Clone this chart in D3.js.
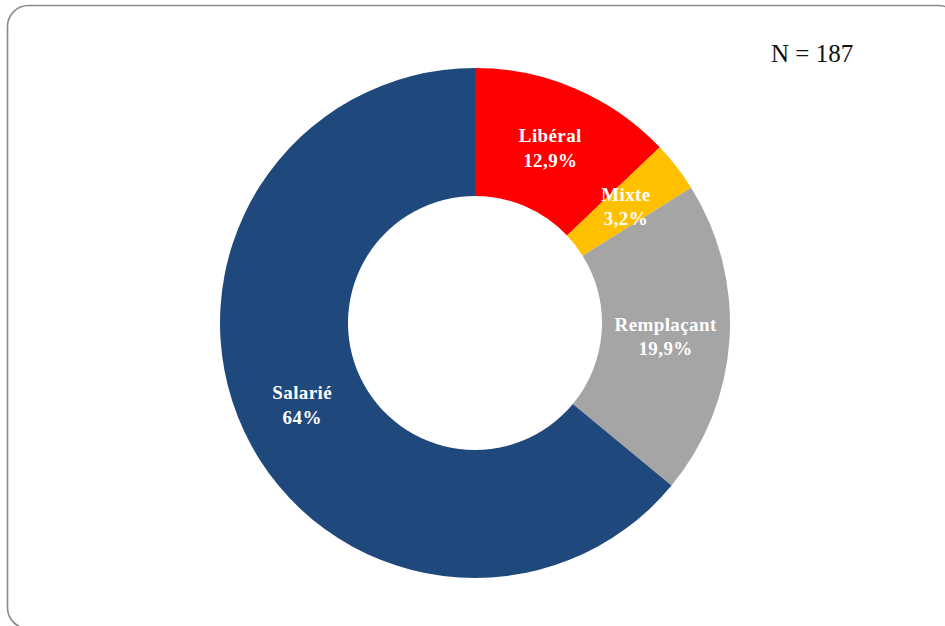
<!DOCTYPE html>
<html><head><meta charset="utf-8">
<script src="https://cdn.jsdelivr.net/npm/d3@7"></script>
<style>html,body{margin:0;padding:0;background:#fff;overflow:hidden}</style>
</head><body>
<svg id="c" width="945" height="626"></svg>
<script>
const categories = ["Libéral", "Mixte", "Remplaçant", "Salarié"];
const values = [12.9, 3.2, 19.9, 64];
const valueLabels = ["12,9%", "3,2%", "19,9%", "64%"];
const colors = ["#FF0000", "#FFC000", "#A5A5A5", "#1F497D"];
const note = "N = 187";

const svg = d3.select("#c");
svg.append("rect").attr("x", 7.5).attr("y", 5.5).attr("width", 952).attr("height", 623)
  .attr("rx", 21).attr("ry", 21).attr("fill", "none").attr("stroke", "#8a8a8a").attr("stroke-width", 1.6);

const cx = 475, cy = 323, rO = 255, rI = 127;
const g = svg.append("g").attr("transform", `translate(${cx},${cy})`);
const data = categories.map((c, i) => ({c, v: values[i], l: valueLabels[i], col: colors[i]}));
const pie = d3.pie().value(d => d.v).sort(null);
const arc = d3.arc().innerRadius(rI).outerRadius(rO);
const arcs = pie(data);
g.selectAll("path").data(arcs).join("path").attr("d", arc).attr("fill", d => d.data.col);

const lab = g.selectAll("text.l").data(arcs).join("text").attr("class", "l")
  .attr("transform", d => `translate(${arc.centroid(d)})`)
  .attr("text-anchor", "middle")
  .attr("font-family", "'Liberation Serif', serif").attr("font-weight", "bold")
  .attr("font-size", 19).attr("letter-spacing", 0.4).attr("fill", "#fff");
lab.append("tspan").attr("x", 0).attr("y", -5).text(d => d.data.c);
lab.append("tspan").attr("x", 0).attr("y", 19.5).text(d => d.data.l);

svg.append("text").attr("x", 771).attr("y", 62).attr("font-family", "'Liberation Serif', serif")
  .attr("font-size", 25).attr("fill", "#111").text(note);
</script>
</body></html>
